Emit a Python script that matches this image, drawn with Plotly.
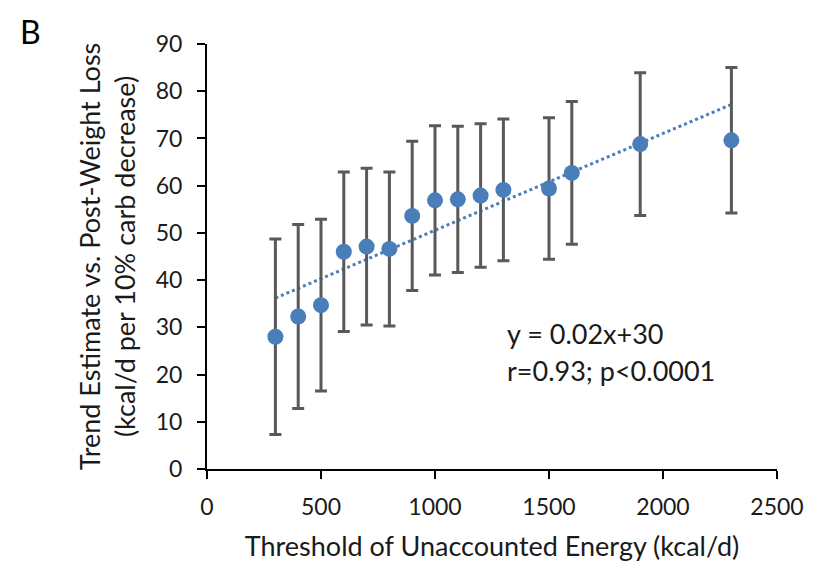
import plotly.graph_objects as go

# Data
thresholds = [300, 400, 500, 600, 700, 800, 900, 1000, 1100, 1200, 1300, 1500, 1600, 1900, 2300]
estimates = [28.0, 32.3, 34.7, 46.0, 47.1, 46.6, 53.6, 56.9, 57.1, 57.9, 59.1, 59.4, 62.7, 68.8, 69.6]
errors = [20.7, 19.5, 18.2, 16.9, 16.6, 16.3, 15.8, 15.8, 15.5, 15.2, 15.0, 15.0, 15.1, 15.1, 15.4]
trend_x = [300, 2300]
trend_y = [36.2, 77.2]
x_ticks = [0, 500, 1000, 1500, 2000, 2500]
y_ticks = [0, 10, 20, 30, 40, 50, 60, 70, 80, 90]

FONT = "Lato"
BLUE = "#4a7ebb"
GREY = "#595959"
TXT = "#1a1a1a"

fig = go.Figure()
fig.add_trace(go.Scatter(
    x=trend_x, y=trend_y, mode="lines",
    line=dict(color=BLUE, width=3, dash="dot"),
    showlegend=False, hoverinfo="skip"))
fig.add_trace(go.Scatter(
    x=thresholds, y=estimates, mode="markers",
    marker=dict(color=BLUE, size=16, line=dict(width=0)),
    error_y=dict(type="data", array=errors, visible=True,
                 color=GREY, thickness=3, width=6),
    showlegend=False))

fig.add_annotation(x=1307, y=28.8, xref="x", yref="y", text="y = 0.02x+30",
                   showarrow=False, xanchor="left", yanchor="middle",
                   font=dict(family=FONT, size=27, color=TXT))
fig.add_annotation(x=1307, y=20.9, xref="x", yref="y", text="r=0.93; p<0.0001",
                   showarrow=False, xanchor="left", yanchor="middle",
                   font=dict(family=FONT, size=27, color=TXT))
fig.add_annotation(x=-0.3316, y=1.08, xref="paper", yref="paper", text="B",
                   showarrow=False, xanchor="left", yanchor="top",
                   font=dict(family=FONT, size=32, color="black"))

fig.update_layout(
    width=817, height=570,
    margin=dict(l=199, r=48, t=36, b=109),
    paper_bgcolor="white", plot_bgcolor="white",
    font=dict(family=FONT, size=23, color=TXT),
    xaxis=dict(range=[0, 2500], tickvals=x_ticks, showgrid=False, zeroline=False,
               showline=True, linecolor="black", linewidth=2,
               ticks="outside", ticklen=8, tickwidth=2, tickcolor="black",
               ticklabelstandoff=8,
               tickfont=dict(family=FONT, size=23, color=TXT),
               title=dict(text="Threshold of Unaccounted Energy (kcal/d)",
                          font=dict(family=FONT, size=27, color=TXT), standoff=19)),
    yaxis=dict(range=[0, 90], tickvals=y_ticks, showgrid=False, zeroline=False,
               showline=True, linecolor="black", linewidth=2,
               ticks="outside", ticklen=8, tickwidth=2, tickcolor="black",
               ticklabelstandoff=10,
               tickfont=dict(family=FONT, size=23, color=TXT),
               title=dict(text="Trend Estimate vs. Post-Weight Loss<br>(kcal/d per 10% carb decrease)",
                          font=dict(family=FONT, size=27, color=TXT), standoff=12)),
)

fig.write_html("out.html")
